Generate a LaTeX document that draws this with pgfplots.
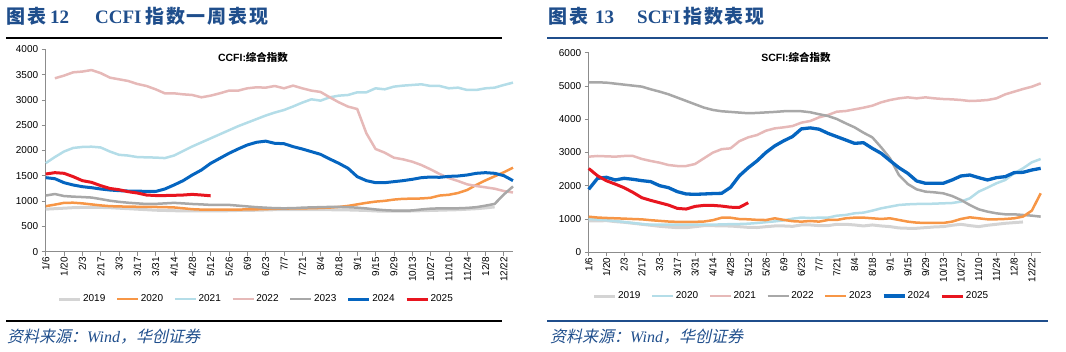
\documentclass[border=0pt]{standalone}
\usepackage{pgfplots}
\pgfplotsset{compat=1.18}
\usepackage{fontspec}
\setmainfont{Liberation Sans}
\newfontfamily\cjk{Noto Sans CJK SC}
\newfontfamily\cjkt{Noto Sans CJK SC}[LetterSpace=10]
\newfontfamily\cjkit{Noto Sans CJK SC}[FakeSlant=0.22]
\newfontfamily\serif{Liberation Serif}
\definecolor{c19}{HTML}{D4D4D4}
\definecolor{corange}{HTML}{F79646}
\definecolor{clblue}{HTML}{B4DDE8}
\definecolor{cpink}{HTML}{E6B9B8}
\definecolor{cgray}{HTML}{A8A8A8}
\definecolor{cblue}{HTML}{0565C0}
\definecolor{cred}{HTML}{E8151F}
\definecolor{ttl}{HTML}{1F4E8C}
\definecolor{axgray}{HTML}{8C8C8C}
\pgfplotsset{
  chart/.style={
    scale only axis, clip=false,
    axis x line*=bottom, axis y line*=left,
    axis line style={draw=axgray, line width=0.7pt},
    every tick/.style={draw=axgray, line width=0.7pt},
    tick align=outside, major tick length=4pt,
    xmin=0, xmax=51, ymin=0,
    xtick={0,2,...,50},
    xticklabels={1/6,1/20,2/3,2/17,3/3,3/17,3/31,4/14,4/28,5/12,5/26,6/9,6/23,7/7,7/21,8/4,8/18,9/1,9/15,9/29,10/13,10/27,11/10,11/24,12/8,12/22},
    xticklabel style={rotate=90, anchor=east, font=\fontsize{10}{10}\selectfont, inner sep=1pt},
    yticklabel style={font=\fontsize{10}{10}\selectfont},
    /pgf/number format/assume math mode=true,
    /pgf/number format/1000 sep={},
    legend columns=7,
    legend image code/.code={\draw[##1] (0pt,0pt) -- (21pt,0pt);},
    legend style={draw=none, fill=none, font=\fontsize{10}{10}\selectfont, inner sep=0pt,
      nodes={inner sep=1.5pt},
      /tikz/every even column/.append style={column sep=9pt}},
    every axis plot/.append style={line width=2.5pt, line join=round, no marks},
  },
  table/tb/.style={row sep=\\, header=false, x expr=\coordindex, y index=0},
  table/tbb/.style={row sep=\\, header=false, x expr=\coordindex+1, y index=0},
}
\begin{document}
\begin{tikzpicture}[x=1pt,y=1pt]
\useasboundingbox (0,0) rectangle (1066,-352);
% ---------- headers ----------
\node[anchor=base west, inner sep=0, text=ttl, font={\fontsize{19}{19}\selectfont\cjkt\bfseries}] at (6,-24) {图表};
\node[anchor=base west, inner sep=0, text=ttl, font={\fontsize{19}{19}\selectfont\serif\bfseries}] at (50,-24) {12};
\node[anchor=base west, inner sep=0, text=ttl, font={\fontsize{19}{19}\selectfont\serif\bfseries}] at (95,-24) {CCFI};
\node[anchor=base west, inner sep=0, text=ttl, font={\fontsize{19}{19}\selectfont\cjkt\bfseries}] at (145,-24) {指数一周表现};
\node[anchor=base west, inner sep=0, text=ttl, font={\fontsize{19}{19}\selectfont\cjkt\bfseries}] at (548,-24) {图表};
\node[anchor=base west, inner sep=0, text=ttl, font={\fontsize{19}{19}\selectfont\serif\bfseries}] at (595,-24) {13};
\node[anchor=base west, inner sep=0, text=ttl, font={\fontsize{19}{19}\selectfont\serif\bfseries}] at (637,-24) {SCFI};
\node[anchor=base west, inner sep=0, text=ttl, font={\fontsize{19}{19}\selectfont\cjkt\bfseries}] at (683,-24) {指数表现};
\draw[black, line width=2pt] (6,-38) -- (502,-38);
\draw[ttl, line width=2pt] (547,-38) -- (1048,-38);
\draw[black, line width=2pt] (6,-321) -- (502,-321);
\draw[ttl, line width=2pt] (547,-321) -- (1048,-321);
\node[anchor=base west, inner sep=0, text=ttl, font={\fontsize{16}{16}\selectfont}] at (7,-343) {{\cjkit 资料来源：}{\serif\itshape Wind}{\cjkit ，华创证券}};
\node[anchor=base west, inner sep=0, text=ttl, font={\fontsize{16}{16}\selectfont}] at (550,-343) {{\cjkit 资料来源：}{\serif\itshape Wind}{\cjkit ，华创证券}};
\node[font={\fontsize{10.5}{10.5}\selectfont\bfseries}] at (253,-57) {CCFI:{\cjk\bfseries 综合指数}};
\node[font={\fontsize{10.5}{10.5}\selectfont\bfseries}] at (796,-57) {SCFI:{\cjk\bfseries 综合指数}};
% ---------- CCFI ----------
\begin{axis}[chart, at={(45.7pt,-251.7pt)}, anchor=south west, width=467.3pt, height=202.4pt,
  ymax=4000, ytick={0,500,...,4000},
  legend style={at={(0.45,-0.234)}, anchor=center}]
\addplot[c19, line width=3pt] table[tb] {840\\850\\860\\870\\875\\875\\875\\870\\860\\850\\840\\830\\820\\815\\810\\805\\805\\805\\805\\805\\810\\815\\815\\820\\825\\830\\830\\830\\830\\830\\830\\830\\825\\825\\820\\815\\805\\800\\800\\800\\805\\810\\815\\820\\825\\830\\840\\850\\865\\885\\};
\addlegendentry{2019}
\addplot[corange] table[tb] {900\\930\\965\\968\\955\\935\\915\\900\\895\\890\\888\\886\\884\\880\\875\\858\\840\\832\\830\\830\\832\\833\\835\\838\\842\\848\\852\\855\\857\\860\\865\\872\\885\\905\\935\\965\\990\\1005\\1030\\1045\\1048\\1052\\1065\\1110\\1125\\1160\\1220\\1320\\1410\\1490\\1570\\1660\\};
\addlegendentry{2020}
\addplot[clblue] table[tb] {1750\\1870\\1980\\2050\\2070\\2075\\2060\\1980\\1915\\1900\\1870\\1865\\1860\\1850\\1900\\1990\\2080\\2160\\2240\\2320\\2400\\2480\\2550\\2620\\2690\\2750\\2800\\2870\\2946\\3012\\2985\\3051\\3084\\3097\\3150\\3150\\3229\\3209\\3262\\3282\\3295\\3308\\3275\\3275\\3229\\3242\\3196\\3196\\3229\\3242\\3295\\3341\\};
\addlegendentry{2021}
\addplot[cpink] table[tbb] {3427\\3480\\3545\\3560\\3590\\3530\\3440\\3407\\3374\\3315\\3275\\3209\\3130\\3130\\3110\\3097\\3051\\3084\\3130\\3183\\3183\\3229\\3249\\3242\\3275\\3229\\3282\\3229\\3183\\3157\\3051\\2952\\2867\\2820\\2339\\2030\\1957\\1858\\1825\\1779\\1713\\1628\\1535\\1456\\1397\\1331\\1298\\1272\\1245\\1199\\1170\\};
\addlegendentry{2022}
\addplot[cgray] table[tb] {1110\\1140\\1100\\1088\\1080\\1070\\1040\\1008\\985\\968\\955\\943\\945\\955\\965\\955\\943\\935\\925\\925\\925\\910\\895\\880\\870\\860\\858\\860\\870\\876\\880\\885\\885\\880\\870\\855\\835\\820\\812\\810\\815\\835\\850\\857\\857\\858\\865\\880\\910\\945\\1130\\1290\\};
\addlegendentry{2023}
\addplot[cblue, line width=3pt] table[tb] {1463\\1443\\1364\\1318\\1285\\1265\\1239\\1219\\1206\\1199\\1199\\1190\\1190\\1239\\1318\\1404\\1516\\1615\\1746\\1845\\1944\\2030\\2109\\2162\\2185\\2142\\2135\\2076\\2030\\1977\\1924\\1832\\1746\\1648\\1483\\1404\\1364\\1364\\1384\\1404\\1430\\1463\\1476\\1470\\1489\\1496\\1516\\1549\\1562\\1549\\1503\\1404\\};
\addlegendentry{2024}
\addplot[cred, line width=3pt] table[tb] {1535\\1562\\1549\\1483\\1404\\1371\\1305\\1250\\1225\\1186\\1160\\1120\\1110\\1110\\1114\\1120\\1133\\1120\\1105\\};
\addlegendentry{2025}
\end{axis}
% ---------- SCFI ----------
\begin{axis}[chart, at={(588.7pt,-252.3pt)}, anchor=south west, width=452pt, height=199.6pt,
  ymax=6000, ytick={0,1000,...,6000},
  legend style={at={(0.448,-0.219)}, anchor=center}]
\addplot[c19, line width=3pt] table[tb] {942\\942\\952\\922\\902\\872\\842\\812\\782\\760\\740\\740\\770\\800\\800\\792\\790\\770\\750\\745\\770\\792\\792\\780\\822\\822\\802\\802\\842\\842\\822\\792\\822\\792\\772\\732\\722\\722\\742\\762\\772\\812\\842\\802\\772\\812\\842\\872\\892\\912\\};
\addlegendentry{2019}
\addplot[clblue] table[tb] {1000\\985\\965\\940\\910\\880\\850\\830\\830\\830\\830\\830\\835\\835\\830\\840\\845\\850\\860\\880\\905\\930\\960\\1010\\1045\\1030\\1042\\1042\\1100\\1122\\1172\\1192\\1252\\1322\\1372\\1422\\1442\\1452\\1452\\1462\\1472\\1482\\1523\\1623\\1823\\1943\\2074\\2174\\2374\\2524\\2705\\2805\\};
\addlegendentry{2020}
\addplot[cpink] table[tb] {2875\\2895\\2885\\2875\\2895\\2895\\2805\\2745\\2694\\2624\\2594\\2594\\2654\\2825\\2995\\3100\\3125\\3340\\3456\\3526\\3656\\3726\\3756\\3796\\3897\\3947\\4057\\4127\\4227\\4247\\4297\\4347\\4407\\4508\\4578\\4628\\4658\\4628\\4658\\4628\\4608\\4598\\4578\\4548\\4558\\4578\\4628\\4748\\4828\\4908\\4978\\5079\\};
\addlegendentry{2021}
\addplot[cgray] table[tb] {5110\\5110\\5100\\5070\\5040\\5010\\4980\\4900\\4830\\4750\\4650\\4550\\4450\\4350\\4280\\4240\\4220\\4200\\4180\\4190\\4205\\4220\\4240\\4245\\4240\\4210\\4150\\4097\\4007\\3877\\3756\\3596\\3456\\3155\\2825\\2324\\2053\\1893\\1823\\1803\\1773\\1693\\1573\\1422\\1292\\1222\\1172\\1142\\1142\\1122\\1102\\1072\\};
\addlegendentry{2022}
\addplot[corange] table[tb] {1070\\1045\\1032\\1022\\1012\\1000\\990\\965\\945\\925\\915\\915\\915\\925\\965\\1040\\1040\\1000\\992\\975\\970\\1022\\975\\935\\922\\940\\922\\972\\972\\1022\\1042\\1042\\1022\\1002\\1022\\972\\922\\892\\882\\882\\882\\922\\1002\\1052\\1022\\992\\992\\1002\\1022\\1072\\1252\\1773\\};
\addlegendentry{2023}
\addplot[cblue, line width=3.3pt] table[tb] {1893\\2224\\2254\\2174\\2224\\2194\\2154\\2124\\2003\\1943\\1823\\1753\\1743\\1753\\1765\\1773\\1950\\2300\\2540\\2750\\3000\\3200\\3350\\3480\\3710\\3740\\3700\\3576\\3476\\3376\\3275\\3295\\3125\\2975\\2755\\2544\\2374\\2144\\2074\\2074\\2074\\2174\\2294\\2324\\2244\\2174\\2244\\2274\\2394\\2404\\2474\\2524\\};
\addlegendentry{2024}
\addplot[cred, line width=3pt] table[tb] {2520\\2300\\2150\\2050\\1940\\1800\\1640\\1560\\1490\\1420\\1320\\1300\\1380\\1410\\1410\\1390\\1355\\1350\\1490\\};
\addlegendentry{2025}
\end{axis}
\end{tikzpicture}
\end{document}
